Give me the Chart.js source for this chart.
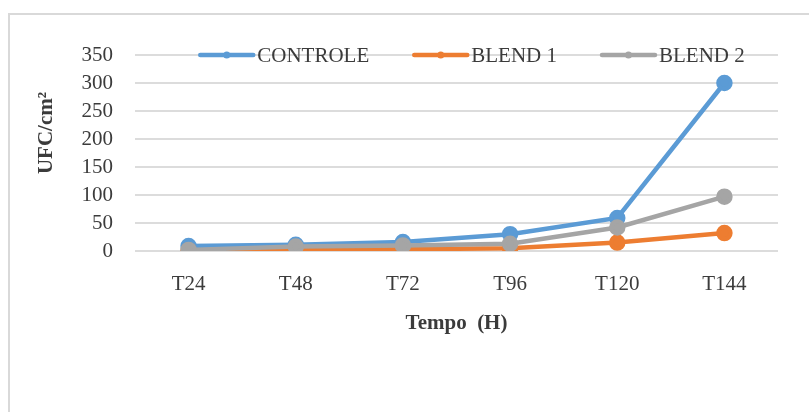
<!DOCTYPE html>
<html>
<head>
<meta charset="utf-8">
<script src="https://cdn.jsdelivr.net/npm/chart.js@4"></script>
<style>
  html, body { margin: 0; padding: 0; background: #ffffff; overflow: hidden; }
  #wrap { position: relative; width: 809px; height: 412px; }
</style>
</head>
<body>
<div id="wrap"><canvas id="c" width="809" height="412"></canvas></div>
<script>
// Colony counts (UFC/cm²) over incubation time
const categories = ['T24', 'T48', 'T72', 'T96', 'T120', 'T144'];
const controle = [9, 11, 16, 30, 59, 300];
const blend1 = [1, 2, 3, 5, 15, 32];
const blend2 = [2, 8, 10, 13, 42, 97];
const seriesNames = ['CONTROLE', 'BLEND 1', 'BLEND 2'];
const yTicks = [0, 50, 100, 150, 200, 250, 300, 350];

const colors = ['#5b9bd5', '#ed7d31', '#a5a5a5'];
const FONT = "'Liberation Serif', 'Times New Roman', serif";
const TEXT = '#3b3b3b';

// later series are painted over earlier ones
function makeSet(label, data, color, order) {
  return {
    label, data, order,
    borderColor: color, backgroundColor: color,
    borderWidth: 4.5,
    pointRadius: 6, pointHoverRadius: 6,
    pointBackgroundColor: color, pointBorderColor: color,
    tension: 0
  };
}

// Frame, y-axis title and in-plot legend
const decor = {
  id: 'decor',
  beforeDraw(chart) {
    const ctx = chart.ctx;
    ctx.save();
    ctx.strokeStyle = '#d9d9d9';
    ctx.lineWidth = 2;
    ctx.strokeRect(9, 14, 900, 500);
    ctx.restore();
  },
  afterDraw(chart) {
    const ctx = chart.ctx;
    const y = chart.scales.y;
    ctx.save();
    // y-axis title
    ctx.font = 'bold 21px ' + FONT;
    ctx.fillStyle = TEXT;
    ctx.textAlign = 'center';
    ctx.textBaseline = 'middle';
    ctx.translate(47, 133);
    ctx.rotate(-Math.PI / 2);
    ctx.fillText('UFC/cm²', 0, 0);
    ctx.restore();

    // legend along the top gridline
    ctx.save();
    ctx.font = '21px ' + FONT;
    const ly = y.getPixelForValue(350);
    const lineLen = 53, gap = 4, itemGap = 45;
    const widths = seriesNames.map(n => lineLen + gap + ctx.measureText(n).width);
    const total = widths.reduce((a, b) => a + b, 0) + itemGap * (seriesNames.length - 1);
    let x = (chart.chartArea.left + chart.chartArea.right) / 2 + 16 - total / 2;
    seriesNames.forEach((n, i) => {
      const c = chart.data.datasets[i].borderColor;
      ctx.strokeStyle = c;
      ctx.lineWidth = 4.5;
      ctx.lineCap = 'round';
      ctx.beginPath();
      ctx.moveTo(x, ly);
      ctx.lineTo(x + lineLen, ly);
      ctx.stroke();
      ctx.fillStyle = c;
      ctx.beginPath();
      ctx.arc(x + lineLen / 2, ly, 3.5, 0, Math.PI * 2);
      ctx.fill();
      ctx.fillStyle = TEXT;
      ctx.textAlign = 'left';
      ctx.textBaseline = 'middle';
      ctx.fillText(n, x + lineLen + gap, ly + 1);
      x += widths[i] + itemGap;
    });
    ctx.restore();
  }
};

new Chart(document.getElementById('c'), {
  type: 'line',
  data: {
    labels: categories,
    datasets: [
      makeSet(seriesNames[0], controle, colors[0], 3),
      makeSet(seriesNames[1], blend1, colors[1], 2),
      makeSet(seriesNames[2], blend2, colors[2], 1)
    ]
  },
  options: {
    responsive: false,
    animation: false,
    events: [],
    layout: { padding: { top: 55, right: 31, bottom: 0, left: 0 } },
    plugins: { legend: { display: false }, tooltip: { enabled: false } },
    scales: {
      x: {
        offset: true,
        grid: { display: false, drawTicks: false },
        border: { display: false },
        ticks: { color: TEXT, font: { family: FONT, size: 21 }, padding: 21, autoSkip: false, maxRotation: 0 },
        title: {
          display: true, text: 'Tempo  (H)', color: TEXT,
          font: { family: FONT, size: 21, weight: 'bold' },
          padding: { top: 0, bottom: 76 }
        },
        afterFit(s) { s.height = 161; }
      },
      y: {
        min: 0, max: 350,
        afterBuildTicks(s) { s.ticks = yTicks.map(v => ({ value: v })); },
        grid: { color: '#dcdcdc', lineWidth: 2, drawTicks: false },
        border: { display: false },
        ticks: { color: TEXT, font: { family: FONT, size: 21 }, padding: 22, autoSkip: false },
        afterFit(s) { s.width = 135; }
      }
    }
  },
  plugins: [decor]
});
</script>
</body>
</html>
